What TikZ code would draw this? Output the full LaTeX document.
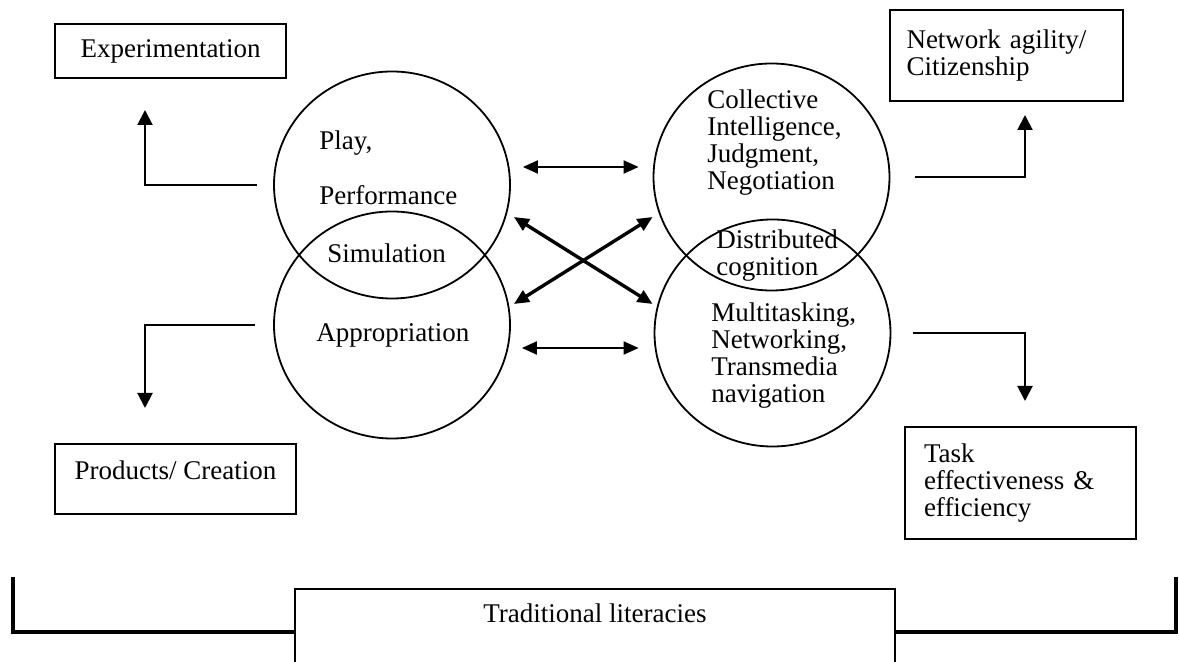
\documentclass[tikz,border=0pt]{standalone}
\usepackage{fontspec}
\setmainfont{Liberation Serif}
\usetikzlibrary{positioning, shapes.geometric, arrows.meta}

\begin{document}
\begin{tikzpicture}[
  x=0.5pt, y=-0.5pt,
  every node/.style={font=\fontsize{13.5pt}{13.5pt}\selectfont},
  ring/.style={draw, ellipse, line width=0.9pt, minimum width=118pt, minimum height=113.5pt, inner sep=0pt},
  outbox/.style={draw, line width=0.9pt, inner sep=0pt},
  lbl/.style={anchor=west, align=left, inner sep=0pt},
  arr/.style={line width=1pt, -{Triangle[length=7.5pt, width=7.5pt]}},
  dbl/.style={line width=1pt, {Triangle[length=7.5pt, width=6.5pt]}-{Triangle[length=7.5pt, width=6.5pt]}},
  xarr/.style={line width=1.7pt, {Triangle[length=7.5pt, width=6.5pt]}-{Triangle[length=7.5pt, width=6.5pt]}},
  brk/.style={line width=1.6pt}
]
\useasboundingbox (0,0) rectangle (1179,662);
\clip (0,0) rectangle (1179,662);

% Overlapping circles
\node[ring] (play) at (392,185) {};
\node[ring] (appr) at (392,325) {};
\node[ring] (coll) at (771.5,177) {};
\node[ring] (multi) at (772.5,333) {};

% Circle texts
\node[lbl] (playtxt) at (319,167.5) {Play,\\[14pt]Performance};
\node[lbl] (simtxt) at (327,253) {Simulation};
\node[lbl] (apprtxt) at (316,335) {Appropriation};
\node[lbl] (colltxt) at (707,143)
  {Collective\\Intelligence,\\Judgment,\\Negotiation};
\node[lbl] (disttxt) at (716,256) {Distributed\\cognition};
\node[lbl] (multitxt) at (711,356)
  {Multitasking,\\Networking,\\Transmedia\\navigation};

% Outcome boxes
\node[outbox, minimum width=115.5pt, minimum height=27pt] (expt) at (170.5,51) {Experimentation};
\node[outbox, minimum width=120.5pt, minimum height=35pt, text height=9.5pt, text depth=9pt] (prod) at (175.5,479) {Products/ Creation};
\node[outbox, minimum width=116.5pt, minimum height=45.5pt, text width=100pt, align=left] (netw) at (1006.5,55.5)
  {Network agility/\\Citizenship};
\node[outbox, minimum width=115.5pt, minimum height=56pt, text width=96.5pt, align=left] (task) at (1020.5,483)
  {Task\\effectiveness \&\\efficiency};

% Base box
\node[outbox, minimum width=300pt, minimum height=43pt, text height=9.5pt, text depth=19pt] (trad) at (595,632) {Traditional literacies};

% Arrow ends
\coordinate (exptin) at (145,110);
\coordinate (prodin) at (145,408);
\coordinate (netwin) at (1025,115);
\coordinate (taskin) at (1025,401);
\coordinate (lbr) at (13,577);
\coordinate (rbr) at (1176,577);

% Elbow arrows to outcomes
\draw[arr, shorten <=8pt] (play.west) -| (exptin);
\draw[arr, shorten <=9pt] (appr.west) -| (prodin);
\draw[arr, shorten <=12.5pt] (coll.east) -| (netwin);
\draw[arr, shorten <=11pt] (multi.east) -| (taskin);

% Links between circles
\draw[dbl] ([shift={(12,-18)}]play.east) -- ([shift={(-14,-10)}]coll.west);
\draw[dbl] ([shift={(11,23)}]appr.east) -- ([shift={(-15,15)}]multi.west);
\draw[xarr] ([shift={(3,32)}]play.east) -- ([shift={(-1,-29)}]multi.west);
\draw[xarr] ([shift={(0,40)}]coll.west) -- ([shift={(3,-21)}]appr.east);

% Bracket
\draw[brk] (lbr) |- (trad.west);
\draw[brk] (rbr) |- (trad.east);

\end{tikzpicture}
\end{document}
